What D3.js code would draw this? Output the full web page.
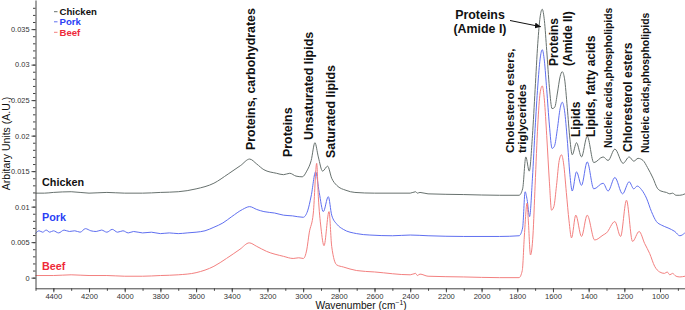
<!DOCTYPE html>
<html>
<head>
<meta charset="utf-8">
<script src="https://cdn.jsdelivr.net/npm/d3@7"></script>
<style>
  body { margin: 0; background: #fff; }
  svg { display: block; font-family: "Liberation Sans", Arial, sans-serif; }
</style>
</head>
<body>
<div id="chart"></div>
<script>
// spectra (wavenumber cm-1, absorbance A.U.)
const chickenWn = [4500,4450,4400,4300,4200,4100,4000,3900,3800,3700,3600,3500,3420,3350,3300,3260,3220,3150,3110,3075,3040,3005,2980,2955,2934,2915,2891,2863,2840,2812,2760,2710,2600,2400,2370,2360,2345,2300,2100,1900,1790,1770,1752,1733,1715,1700,1685,1672,1660,1648,1635,1620,1605,1590,1575,1560,1548,1535,1520,1505,1492,1468,1440,1408,1371,1319,1291,1253,1207,1173,1147,1123,1095,1070,1039,1015,995,964,945,930,910,889,860];
const chickenAbs = [0.0119,0.0119,0.0120,0.0121,0.0119,0.0120,0.0119,0.0119,0.0120,0.0121,0.0125,0.0133,0.0146,0.0158,0.0167,0.0160,0.0152,0.0147,0.0145,0.0147,0.0143,0.0142,0.0150,0.0165,0.0190,0.0170,0.0150,0.0157,0.0140,0.0130,0.0123,0.0120,0.0119,0.0119,0.0121,0.0119,0.0120,0.0118,0.0117,0.0116,0.0116,0.0125,0.0170,0.0150,0.0200,0.0265,0.0330,0.0367,0.0378,0.0362,0.0320,0.0268,0.0238,0.0240,0.0260,0.0283,0.0290,0.0280,0.0240,0.0195,0.0173,0.0190,0.0170,0.0199,0.0162,0.0170,0.0165,0.0181,0.0161,0.0170,0.0164,0.0168,0.0165,0.0155,0.0140,0.0126,0.0122,0.0120,0.0118,0.0119,0.0116,0.0116,0.0118];

const porkWn = [4500,4480,4460,4440,4420,4400,4370,4340,4310,4280,4250,4220,4190,4160,4130,4100,4070,4040,4010,3980,3950,3900,3850,3800,3750,3700,3650,3600,3550,3500,3450,3400,3340,3300,3260,3220,3160,3110,3060,3000,2975,2955,2930,2910,2887,2859,2840,2810,2775,2700,2626,2500,2400,2300,2100,1900,1790,1770,1756,1745,1731,1715,1700,1685,1672,1660,1648,1635,1620,1605,1592,1575,1560,1548,1535,1520,1505,1492,1468,1440,1408,1371,1319,1291,1253,1210,1173,1147,1128,1104,1076,1048,1020,992,955,917,889,861];
const porkAbs = [0.0062,0.0066,0.0064,0.0067,0.0064,0.0066,0.0063,0.0067,0.0065,0.0066,0.0064,0.0069,0.0066,0.0065,0.0067,0.0064,0.0068,0.0064,0.0066,0.0063,0.0065,0.0063,0.0064,0.0062,0.0063,0.0062,0.0063,0.0064,0.0066,0.0071,0.0077,0.0086,0.0096,0.0100,0.0096,0.0093,0.0091,0.0088,0.0087,0.0085,0.0094,0.0115,0.0149,0.0120,0.0093,0.0114,0.0088,0.0075,0.0068,0.0062,0.0060,0.0059,0.0060,0.0059,0.0058,0.0058,0.0059,0.0070,0.0121,0.0110,0.0086,0.0140,0.0210,0.0270,0.0308,0.0321,0.0305,0.0265,0.0215,0.0182,0.0185,0.0210,0.0238,0.0247,0.0235,0.0195,0.0145,0.0122,0.0149,0.0130,0.0163,0.0125,0.0133,0.0122,0.0141,0.0118,0.0135,0.0125,0.0129,0.0124,0.0112,0.0093,0.0079,0.0074,0.0070,0.0065,0.0059,0.0063];

const beefWn = [4500,4400,4300,4200,4100,4000,3900,3800,3700,3600,3500,3430,3354,3302,3260,3205,3110,3056,3025,2999,2980,2966,2943,2924,2915,2900,2883,2855,2840,2812,2775,2700,2600,2400,2370,2360,2345,2300,2100,1900,1790,1772,1760,1745,1738,1726,1712,1700,1685,1672,1660,1648,1635,1620,1608,1595,1580,1565,1552,1540,1525,1510,1496,1472,1440,1408,1366,1319,1300,1253,1221,1188,1154,1117,1086,1058,1030,1002,975,960,945,930,910,889,860];
const beefAbs = [0.0003,0.0003,0.0004,0.0003,0.0003,0.0002,0.0002,0.0003,0.0004,0.0007,0.0016,0.0027,0.0040,0.0049,0.0044,0.0037,0.0030,0.0027,0.0028,0.0027,0.0039,0.0063,0.0091,0.0161,0.0114,0.0070,0.0045,0.0093,0.0044,0.0018,0.0015,0.0010,0.0008,0.0004,0.0006,0.0003,0.0005,0.0002,0.0001,0.0000,0.0000,0.0010,0.0060,0.0105,0.0080,0.0032,0.0060,0.0130,0.0215,0.0260,0.0270,0.0250,0.0200,0.0135,0.0095,0.0100,0.0130,0.0165,0.0173,0.0160,0.0120,0.0080,0.0056,0.0088,0.0058,0.0088,0.0053,0.0060,0.0063,0.0079,0.0058,0.0109,0.0051,0.0065,0.0048,0.0034,0.0016,0.0008,0.0006,0.0008,0.0004,0.0006,0.0002,0.0001,0.0002];

const seriesNames = ["Chicken", "Pork", "Beef"];
const xTicks = [4400,4200,4000,3800,3600,3400,3200,3000,2800,2600,2400,2200,2000,1800,1600,1400,1200,1000];
const yTicks = [0,0.005,0.01,0.015,0.02,0.025,0.03,0.035];

// band assignments, placed at a wavenumber
const bandLabels = [
  {text: "Proteins, carbohydrates", wn: 3270, size: 12.4},
  {text: "Proteins", wn: 3063, size: 12.4},
  {text: "Unsaturated lipids", wn: 2945, size: 12.4},
  {text: "Saturated lipids", wn: 2822, size: 12.4},
  {text: "Cholesterol esters,", wn: 1819, size: 11.6},
  {text: "triglycerides", wn: 1752, size: 11.6},
  {text: "Proteins", wn: 1572, size: 12},
  {text: "(Amide II)", wn: 1494, size: 12},
  {text: "Lipids", wn: 1450, size: 12},
  {text: "Lipids, fatty acids", wn: 1366, size: 12},
  {text: "Nucleic acids,phospholipids", wn: 1270, size: 10.4},
  {text: "Chloresterol esters", wn: 1158, size: 12},
  {text: "Nucleic acids,phospholipids", wn: 1063, size: 10.4}
];
const labelBottoms = [150, 157, 140, 158, 153, 153, 66, 66, 137, 137, 148, 152, 153];

function buildSpectra(parentID){

	const width = 685, height = 310;
	const lineColors = ["#67716e", "#5f6ff0", "#f3807f"];
	const textColors = ["#111111", "#2a3ff5", "#ee2a3a"];

	const svg = d3.select(parentID).append("svg")
		.attr("width", width)
		.attr("height", height);

	const x = d3.scaleLinear().domain([4500, 860]).range([35.5, 685]);
	const y = d3.scaleLinear().domain([-0.0015, 0.0391]).range([288.3, 0]);

	const series = [
		d3.zip(chickenWn, chickenAbs),
		d3.zip(porkWn, porkAbs),
		d3.zip(beefWn, beefAbs)
	];

	const line = d3.line()
		.x(d => x(d[0]))
		.y(d => y(d[1]))
		.curve(d3.curveMonotoneX);

	svg.append("g").selectAll("path")
		.data(series)
		.enter().append("path")
		.attr("d", line)
		.attr("fill", "none")
		.attr("stroke", (d, i) => lineColors[i])
		.attr("stroke-width", 1);

	// axes
	const xMinor = d3.range(4500, 860, -100);
	svg.append("g")
		.attr("transform", "translate(0,288.3)")
		.call(d3.axisBottom(x).tickValues(xMinor).tickSize(2.5).tickFormat(""))
		.call(g => g.select(".domain").remove())
		.selectAll("line").attr("stroke", "#444");

	const xAxis = svg.append("g")
		.attr("transform", "translate(0,288.3)")
		.call(d3.axisBottom(x).tickValues(xTicks).tickSize(4).tickSizeOuter(0).tickPadding(1)
			.tickFormat(d3.format("d")));
	xAxis.selectAll("text").attr("font-size", 7.6).attr("fill", "#333").attr("font-family", "Liberation Sans, Arial");
	xAxis.selectAll("line, path").attr("stroke", "#444");

	const yMinor = d3.range(0, 0.039, 0.001);
	svg.append("g")
		.attr("transform", "translate(35.5,0)")
		.call(d3.axisLeft(y).tickValues(yMinor).tickSize(2.5).tickFormat(""))
		.call(g => g.select(".domain").remove())
		.selectAll("line").attr("stroke", "#444");

	const yAxis = svg.append("g")
		.attr("transform", "translate(35.5,0)")
		.call(d3.axisLeft(y).tickValues(yTicks).tickSize(4).tickSizeOuter(0).tickPadding(2)
			.tickFormat(d => d === 0 ? "0" : String(+d.toFixed(3))));
	yAxis.selectAll("text").attr("font-size", 7.4).attr("fill", "#333").attr("font-family", "Liberation Sans, Arial");
	yAxis.selectAll("line, path").attr("stroke", "#444");

	// axis titles
	const xTitle = svg.append("text")
		.attr("x", 361)
		.attr("y", 309)
		.attr("text-anchor", "middle")
		.attr("font-size", 10.2)
		.attr("fill", "#111");
	xTitle.append("tspan").text("Wavenumber (cm");
	xTitle.append("tspan").attr("font-size", 6.8).attr("dy", -4).text("−1");
	xTitle.append("tspan").attr("dy", 4).text(")");

	svg.append("text")
		.attr("transform", "translate(10,143.5) rotate(-90)")
		.attr("text-anchor", "middle")
		.attr("font-size", 10.5)
		.attr("fill", "#111")
		.text("Arbitary Units (A.U.)");

	// legend
	const legend = svg.append("g").selectAll("g")
		.data(seriesNames)
		.enter().append("g")
		.attr("transform", (d, i) => `translate(54,${[11.7, 21.8, 32.3][i]})`);
	legend.append("line")
		.attr("x1", 0).attr("x2", 3.5)
		.attr("stroke", (d, i) => lineColors[i]);
	legend.append("text")
		.attr("x", 5.5).attr("dy", "0.35em")
		.attr("font-size", 9.6).attr("font-weight", "bold")
		.attr("fill", (d, i) => textColors[i])
		.text(d => d);

	// series names beside the curves
	svg.append("g").selectAll("text")
		.data(seriesNames)
		.enter().append("text")
		.attr("x", 42)
		.attr("y", (d, i) => [182.3, 217.7, 266.7][i])
		.attr("dy", "0.35em")
		.attr("font-size", 10.8).attr("font-weight", "bold")
		.attr("fill", (d, i) => textColors[i])
		.text(d => d);

	// vertical band labels
	svg.append("g").selectAll("text")
		.data(bandLabels)
		.enter().append("text")
		.attr("transform", (d, i) => `translate(${x(d.wn)},${labelBottoms[i]}) rotate(-90)`)
		.attr("font-size", d => d.size)
		.attr("font-weight", "bold")
		.attr("fill", "#111")
		.text(d => d.text);

	// amide I callout
	const amide = svg.append("text")
		.attr("font-size", 12.4).attr("font-weight", "bold").attr("fill", "#111")
		.attr("text-anchor", "middle");
	amide.append("tspan").attr("x", 480).attr("y", 19).text("Proteins");
	amide.append("tspan").attr("x", 480).attr("y", 33).text("(Amide I)");

	svg.append("defs").append("marker")
		.attr("id", "head")
		.attr("viewBox", "0 0 10 10")
		.attr("refX", 10).attr("refY", 5)
		.attr("markerWidth", 6).attr("markerHeight", 6)
		.attr("orient", "auto")
		.append("path").attr("d", "M0,0L10,5L0,10z").attr("fill", "#111");

	svg.append("line")
		.attr("x1", 510).attr("y1", 20.5)
		.attr("x2", x(1668)).attr("y2", 26.7)
		.attr("stroke", "#111").attr("stroke-width", 1)
		.attr("marker-end", "url(#head)");
}

buildSpectra("#chart");
</script>
</body>
</html>
